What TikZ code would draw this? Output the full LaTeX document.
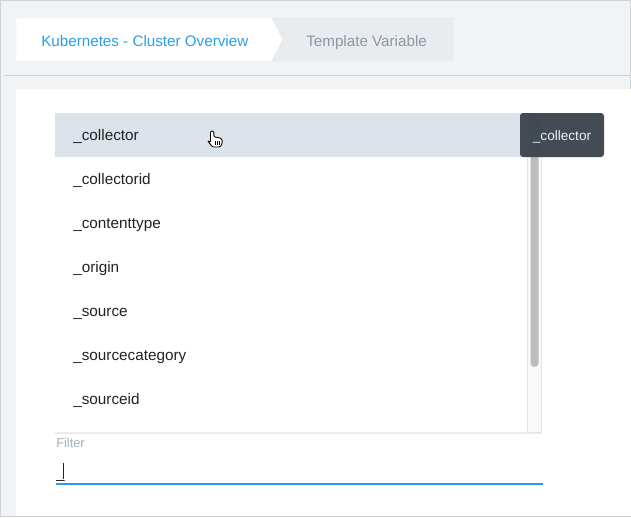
\documentclass[tikz,border=0pt]{standalone}
\usepackage{fontspec}
\setmainfont{Liberation Sans}
\usetikzlibrary{positioning,shadows}
\definecolor{pagebg}{HTML}{F2F3F5}
\definecolor{frame}{HTML}{CDD3DA}
\definecolor{crumbgray}{HTML}{E9ECEF}
\definecolor{linkblue}{HTML}{2A9FE3}
\definecolor{mutedtext}{HTML}{8B98A7}
\definecolor{rowhi}{HTML}{DDE3EA}
\definecolor{itemtext}{HTML}{1F2329}
\definecolor{tipbg}{HTML}{3D4650}
\definecolor{thumb}{HTML}{BDBDBD}
\definecolor{track}{HTML}{F8F8F8}
\definecolor{filterlbl}{HTML}{A3AEBB}
\definecolor{focusblue}{HTML}{2D9BEA}
\tikzset{
  item/.style={anchor=base west,inner sep=0pt,text=itemtext,font=\fontsize{15.3}{17}\selectfont},
  crumb/.style={anchor=base west,inner sep=0pt,font=\fontsize{15.2}{17}\selectfont},
}

\begin{document}
\begin{tikzpicture}[x=1pt,y=-1pt,semithick]
\useasboundingbox (0,0) rectangle (631,517);
\fill[pagebg] (0,0) rectangle (631,517);
\draw[frame,thin] (0.5,0.5) rectangle (630.5,516.5);

% breadcrumb
\filldraw[fill=crumbgray,draw=frame!60,thin] (272,18)--(453,18)--(453,61)--(272,61)--(283,39.5)--cycle;
\filldraw[fill=white,draw=frame!60,thin] (16,18)--(272,18)--(283,39.5)--(272,61)--(16,61)--cycle;
\node[crumb,text=linkblue] (dash) at (41,46) {Kubernetes - Cluster Overview};
\node[crumb,text=mutedtext] (tvar) at (306,46) {Template Variable};
\draw[frame] (4,75)--(631,75);

% panel
\fill[white] (16,89) rectangle (630.5,516);

% dropdown list
\fill[white,drop shadow={opacity=0.15,shadow xshift=0pt,shadow yshift=-1.5pt}] (55,113) rectangle (541,432);
\fill[rowhi] (55,113) rectangle (527,157);
\filldraw[fill=track,draw=black!10,thin] (527,113) rectangle (541,432);
\fill[thumb,rounded corners=4pt] (530.5,117) rectangle (538.5,367);
\foreach \txt [count=\i] in {\_collector,\_collectorid,\_contenttype,\_origin,\_source,\_sourcecategory,\_sourceid}
  \node[item] (item\i) at (73,96+44*\i) {\txt};

% pointer
\filldraw[fill=white,draw=black,line width=0.9pt,rounded corners=1.2pt]
  (207.5,140.5)--(210.5,142.5)--(210.5,131)--(213.8,131)--(213.8,137)--(216.5,137.2)
  --(219.2,137.8)--(222,139)--(222.2,143.5)--(220.2,147)--(212.5,147)--cycle;
\foreach \k in {215.3,217.5,219.7}
  \draw[black,line width=0.7pt] (\k,141.2)--(\k,144.8);

% tooltip
\fill[tipbg,opacity=0.97,rounded corners=3pt] (520,113) rectangle (604,157);
\node[anchor=base,inner sep=0pt,text=white!92!tipbg,font=\fontsize{13.6}{15}\selectfont] (tip) at (562,140.5) {\_collector};

% filter field
\node[anchor=base west,inner sep=0pt,text=filterlbl,font=\fontsize{12.8}{14}\selectfont] (flabel) at (56,447) {Filter};
\node[anchor=base west,inner sep=0pt,text=itemtext,font=\fontsize{15}{17}\selectfont] (ftext) at (56,478) {\_};
\draw[itemtext,thin] (63,463)--(63,479);
\fill[focusblue] (56,482.5) rectangle (543,484.5);
\end{tikzpicture}
\end{document}
